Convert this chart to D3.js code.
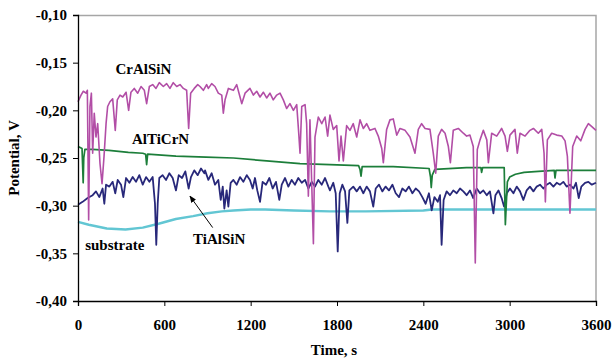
<!DOCTYPE html>
<html>
<head>
<meta charset="utf-8">
<script src="https://cdn.jsdelivr.net/npm/d3@7"></script>
<style>
  body { margin: 0; background: #fff; }
  text { font-family: "Liberation Serif", "Times New Roman", serif; font-weight: bold; }
</style>
</head>
<body>
<div id="vis"></div>
<script>
// potencial vs tiempo
const xTicks = [0, 600, 1200, 1800, 2400, 3000, 3600];
const yTicks = [-0.10, -0.15, -0.20, -0.25, -0.30, -0.35, -0.40];

const crAlSiN = [[0,-0.191],[21,-0.184],[37,-0.180],[56,-0.182],[65,-0.179],[74,-0.315],[83,-0.196],[93,-0.182],[102,-0.245],[113,-0.203],[125,-0.228],[137,-0.214],[153,-0.256],[167,-0.277],[181,-0.248],[195,-0.214],[206,-0.196],[222,-0.191],[241,-0.188],[259,-0.221],[273,-0.189],[292,-0.184],[311,-0.186],[334,-0.181],[352,-0.200],[368,-0.181],[391,-0.177],[415,-0.182],[438,-0.175],[461,-0.179],[477,-0.193],[496,-0.175],[519,-0.173],[542,-0.177],[565,-0.171],[593,-0.175],[616,-0.172],[639,-0.177],[662,-0.171],[686,-0.175],[709,-0.173],[732,-0.177],[755,-0.179],[769,-0.219],[783,-0.182],[808,-0.177],[832,-0.173],[848,-0.175],[871,-0.179],[894,-0.173],[906,-0.177],[929,-0.172],[952,-0.175],[975,-0.182],[999,-0.184],[1010,-0.203],[1022,-0.189],[1045,-0.177],[1080,-0.179],[1103,-0.173],[1126,-0.186],[1138,-0.193],[1161,-0.182],[1195,-0.177],[1219,-0.184],[1242,-0.180],[1265,-0.186],[1288,-0.181],[1311,-0.187],[1334,-0.182],[1357,-0.189],[1381,-0.184],[1404,-0.182],[1427,-0.189],[1450,-0.198],[1473,-0.193],[1497,-0.200],[1520,-0.194],[1534,-0.224],[1543,-0.245],[1555,-0.196],[1578,-0.194],[1589,-0.214],[1601,-0.290],[1612,-0.210],[1636,-0.340],[1647,-0.228],[1670,-0.207],[1694,-0.214],[1717,-0.207],[1735,-0.227],[1751,-0.205],[1774,-0.220],[1798,-0.216],[1814,-0.253],[1828,-0.227],[1844,-0.253],[1867,-0.216],[1890,-0.221],[1913,-0.214],[1937,-0.228],[1960,-0.210],[1983,-0.219],[2006,-0.214],[2029,-0.221],[2064,-0.219],[2087,-0.227],[2111,-0.240],[2122,-0.255],[2145,-0.220],[2168,-0.210],[2191,-0.209],[2215,-0.226],[2238,-0.219],[2273,-0.221],[2307,-0.228],[2342,-0.245],[2365,-0.220],[2388,-0.214],[2412,-0.219],[2446,-0.220],[2469,-0.245],[2486,-0.266],[2504,-0.227],[2527,-0.220],[2551,-0.224],[2574,-0.238],[2588,-0.255],[2608,-0.221],[2643,-0.219],[2678,-0.224],[2701,-0.227],[2724,-0.226],[2747,-0.238],[2761,-0.360],[2775,-0.241],[2794,-0.231],[2817,-0.221],[2841,-0.231],[2852,-0.255],[2875,-0.224],[2910,-0.227],[2944,-0.219],[2968,-0.227],[2984,-0.243],[3002,-0.226],[3037,-0.220],[3053,-0.245],[3072,-0.224],[3107,-0.227],[3141,-0.221],[3165,-0.219],[3199,-0.224],[3223,-0.220],[3239,-0.245],[3248,-0.296],[3262,-0.231],[3292,-0.224],[3327,-0.226],[3362,-0.227],[3385,-0.232],[3401,-0.248],[3419,-0.308],[3438,-0.238],[3466,-0.227],[3494,-0.232],[3524,-0.220],[3547,-0.214],[3571,-0.217],[3600,-0.221]];

const alTiCrN = [[0,-0.238],[15,-0.239],[28,-0.240],[33,-0.262],[36,-0.276],[40,-0.250],[48,-0.241],[100,-0.241],[215,-0.242],[350,-0.244],[450,-0.245],[470,-0.246],[477,-0.257],[484,-0.246],[681,-0.248],[890,-0.249],[1080,-0.250],[1311,-0.253],[1543,-0.256],[1751,-0.257],[1950,-0.258],[1960,-0.262],[1967,-0.269],[1975,-0.259],[2191,-0.259],[2440,-0.261],[2450,-0.270],[2455,-0.281],[2462,-0.268],[2480,-0.262],[2700,-0.260],[2800,-0.260],[2805,-0.265],[2812,-0.260],[2962,-0.260],[2966,-0.290],[2970,-0.320],[2976,-0.300],[2984,-0.275],[3000,-0.270],[3040,-0.267],[3100,-0.265],[3200,-0.264],[3310,-0.263],[3315,-0.271],[3322,-0.263],[3600,-0.263]];

const tiAlSiN = [[0,-0.299],[32,-0.296],[67,-0.292],[102,-0.289],[125,-0.285],[148,-0.291],[171,-0.282],[183,-0.298],[195,-0.278],[218,-0.280],[241,-0.275],[259,-0.287],[276,-0.273],[299,-0.278],[315,-0.291],[334,-0.271],[357,-0.276],[380,-0.270],[403,-0.275],[426,-0.268],[450,-0.278],[473,-0.270],[496,-0.275],[519,-0.270],[535,-0.298],[544,-0.341],[554,-0.298],[565,-0.271],[588,-0.268],[612,-0.273],[635,-0.266],[658,-0.271],[681,-0.284],[700,-0.268],[723,-0.271],[746,-0.264],[769,-0.282],[785,-0.270],[808,-0.263],[832,-0.268],[855,-0.261],[878,-0.266],[883,-0.263],[906,-0.273],[929,-0.266],[952,-0.278],[975,-0.273],[992,-0.294],[1006,-0.280],[1017,-0.303],[1033,-0.284],[1045,-0.301],[1061,-0.276],[1080,-0.273],[1103,-0.278],[1126,-0.270],[1149,-0.275],[1173,-0.268],[1195,-0.273],[1214,-0.282],[1230,-0.271],[1246,-0.284],[1265,-0.296],[1283,-0.275],[1307,-0.278],[1330,-0.271],[1353,-0.282],[1376,-0.275],[1399,-0.294],[1416,-0.278],[1439,-0.271],[1462,-0.280],[1485,-0.273],[1508,-0.278],[1531,-0.271],[1555,-0.276],[1578,-0.273],[1601,-0.282],[1624,-0.275],[1647,-0.280],[1670,-0.273],[1694,-0.278],[1717,-0.271],[1740,-0.280],[1751,-0.284],[1774,-0.276],[1791,-0.287],[1805,-0.348],[1819,-0.287],[1837,-0.278],[1856,-0.285],[1872,-0.318],[1886,-0.284],[1913,-0.280],[1937,-0.285],[1960,-0.280],[1983,-0.287],[2006,-0.280],[2029,-0.285],[2052,-0.301],[2069,-0.282],[2092,-0.278],[2115,-0.285],[2138,-0.280],[2161,-0.284],[2185,-0.278],[2208,-0.287],[2231,-0.291],[2254,-0.282],[2277,-0.285],[2300,-0.280],[2324,-0.287],[2347,-0.282],[2370,-0.285],[2393,-0.291],[2416,-0.298],[2439,-0.287],[2458,-0.305],[2477,-0.291],[2500,-0.296],[2516,-0.289],[2527,-0.341],[2541,-0.294],[2562,-0.285],[2585,-0.289],[2608,-0.284],[2632,-0.287],[2655,-0.282],[2678,-0.285],[2701,-0.289],[2724,-0.284],[2747,-0.292],[2771,-0.282],[2794,-0.287],[2817,-0.284],[2841,-0.289],[2863,-0.285],[2887,-0.308],[2901,-0.289],[2922,-0.284],[2944,-0.292],[2961,-0.301],[2980,-0.287],[3002,-0.282],[3026,-0.287],[3049,-0.280],[3072,-0.285],[3095,-0.294],[3118,-0.284],[3141,-0.280],[3165,-0.285],[3188,-0.280],[3211,-0.278],[3234,-0.282],[3257,-0.278],[3280,-0.276],[3304,-0.280],[3327,-0.276],[3350,-0.278],[3373,-0.275],[3396,-0.280],[3419,-0.278],[3443,-0.282],[3461,-0.276],[3480,-0.292],[3498,-0.280],[3524,-0.276],[3547,-0.275],[3571,-0.278],[3600,-0.276]];

const substrate = [[0,-0.317],[75,-0.320],[200,-0.324],[330,-0.325],[450,-0.323],[560,-0.319],[680,-0.314],[800,-0.311],[900,-0.308],[1000,-0.306],[1080,-0.305],[1200,-0.304],[1300,-0.304],[1500,-0.305],[1750,-0.306],[2000,-0.306],[2400,-0.305],[2460,-0.304],[2700,-0.304],[3000,-0.304],[3600,-0.304]];

const series = [
    { name: "substrate", data: substrate, color: "#62c6d3", width: 2.4 },
    { name: "TiAlSiN", data: tiAlSiN, color: "#28287a", width: 1.8 },
    { name: "AlTiCrN", data: alTiCrN, color: "#1c7e3a", width: 1.7 },
    { name: "CrAlSiN", data: crAlSiN, color: "#b24ea6", width: 1.6 },
];

// etiquetas [texto, t, v]
const labels = [
    ["CrAlSiN", 260, -0.162],
    ["AlTiCrN", 375, -0.235],
    ["TiAlSiN", 800, -0.340],
    ["substrate", 50, -0.346],
];

const WIDTH_VIS = 613;
const HEIGHT_VIS = 361;
const MARGIN = { top: 15, bottom: 60, right: 17, left: 78 };
const WIDTH = WIDTH_VIS - MARGIN.left - MARGIN.right;
const HEIGHT = HEIGHT_VIS - MARGIN.top - MARGIN.bottom;

const SVG = d3.select("#vis").append("svg")
    .attr("width", WIDTH_VIS)
    .attr("height", HEIGHT_VIS);

const xScale = d3.scaleLinear().domain([0, 3600]).range([0, WIDTH]);
const yScale = d3.scaleLinear().domain([-0.40, -0.10]).range([HEIGHT, 0]);

const plot = SVG.append("g")
    .attr("transform", `translate(${MARGIN.left}, ${MARGIN.top})`);

// marco gris arriba y a la derecha
plot.append("path")
    .attr("d", `M0,0.5H${WIDTH}V${HEIGHT}`)
    .attr("fill", "none")
    .attr("stroke", "#a6a6a6")
    .attr("stroke-width", 1.5);

const line = d3.line()
    .x(d => xScale(d[0]))
    .y(d => yScale(d[1]));

plot.selectAll("path.serie")
    .data(series)
    .join("path")
    .attr("class", "serie")
    .attr("d", d => line(d.data))
    .attr("fill", "none")
    .attr("stroke", d => d.color)
    .attr("stroke-width", d => d.width)
    .attr("stroke-linejoin", "round");

const fmt = d => d3.format(".2f")(d).replace(".", ",").replace("−", "-");

const ejeY = plot.append("g")
    .call(d3.axisLeft(yScale).tickValues(yTicks).tickSize(5).tickPadding(6).tickFormat(fmt));
const ejeX = plot.append("g")
    .attr("transform", `translate(0, ${HEIGHT})`)
    .call(d3.axisBottom(xScale).tickValues(xTicks).tickSize(5).tickPadding(13).tickFormat(d3.format("d")));

[ejeX, ejeY].forEach(eje => {
    eje.select(".domain").attr("stroke", "#000").attr("stroke-width", 1.3);
    eje.selectAll(".tick line").attr("stroke", "#000");
    eje.selectAll(".tick text")
        .attr("font-family", "Liberation Serif, serif")
        .attr("font-weight", "bold")
        .attr("font-size", 15)
        .attr("fill", "#000");
});

plot.selectAll("text.etiqueta")
    .data(labels)
    .join("text")
    .attr("class", "etiqueta")
    .attr("x", d => xScale(d[1]))
    .attr("y", d => yScale(d[2]))
    .attr("font-size", 15)
    .text(d => d[0]);

// flecha de TiAlSiN
SVG.append("defs").append("marker")
    .attr("id", "flecha")
    .attr("viewBox", "0 0 10 10")
    .attr("refX", 9).attr("refY", 5)
    .attr("markerWidth", 7).attr("markerHeight", 7)
    .attr("orient", "auto")
    .append("path")
    .attr("d", "M0,1L10,5L0,9z")
    .attr("fill", "#000");

plot.append("line")
    .attr("x1", xScale(936)).attr("y1", yScale(-0.323))
    .attr("x2", xScale(778)).attr("y2", yScale(-0.290))
    .attr("stroke", "#000")
    .attr("stroke-width", 1)
    .attr("marker-end", "url(#flecha)");

SVG.append("text")
    .text("Potential, V")
    .attr("text-anchor", "middle")
    .attr("transform", `translate(19, ${MARGIN.top + HEIGHT / 2}) rotate(270)`)
    .attr("font-size", 15);

SVG.append("text")
    .text("Time, s")
    .attr("text-anchor", "middle")
    .attr("x", MARGIN.left + WIDTH / 2 - 3)
    .attr("y", HEIGHT_VIS - 6)
    .attr("font-size", 15);
</script>
</body>
</html>
